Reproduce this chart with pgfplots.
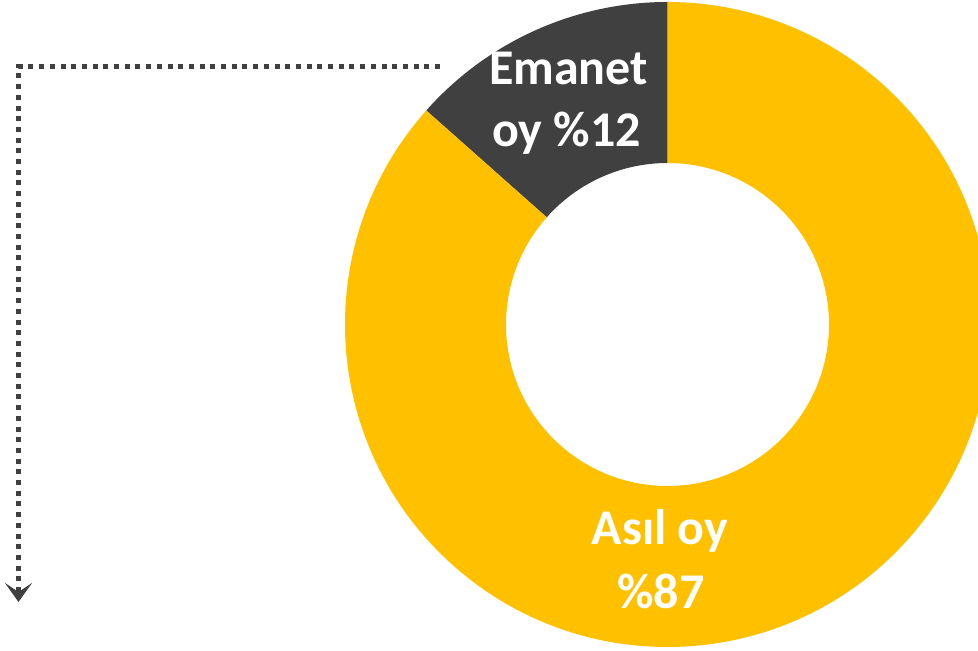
\documentclass[border=0pt]{standalone}
\usepackage{pgfplots}
\pgfplotsset{compat=1.18}
\usepackage{pgfplotstable}
\usepackage{fontspec}
\setmainfont{Carlito}
\usetikzlibrary{arrows.meta}
\definecolor{cyel}{HTML}{FFC000}
\definecolor{cgray}{HTML}{404040}
\pgfplotstableread{
part share
Emanet 13.45
Asil 86.55
}\votes
\begin{document}
\begin{tikzpicture}
\pgfplotstablegetelem{0}{share}\of\votes
\pgfmathsetmacro{\angA}{90+3.6*\pgfplotsretval}
\begin{axis}[
  x=1pt, y=1pt, scale only axis,
  xmin=0, xmax=978, ymin=0, ymax=651,
  hide axis, clip=true,
  at={(0,0)}, anchor=south west,
]
\addplot[draw=none] coordinates {(0,0) (978,651)};
\begin{scope}[shift={(axis cs:667.5,326.5)}]
\fill[cgray] (90:322.5pt) arc[start angle=90, end angle=\angA, radius=322.5pt]
  -- (\angA:161.5pt) arc[start angle=\angA, end angle=90, radius=161.5pt] -- cycle;
\fill[cyel] (\angA:322.5pt) arc[start angle=\angA, end angle=450, radius=322.5pt]
  -- (450:161.5pt) arc[start angle=450, end angle=\angA, radius=161.5pt] -- cycle;
\end{scope}
\draw[cgray, line width=5pt, dash pattern=on 5pt off 5.7pt]
  (axis cs:440,584) -- (axis cs:18.5,584) -- (axis cs:18.5,62);
\draw[cgray, line width=5pt, -{Stealth[length=19pt, width=27pt, inset=9pt]}]
  (axis cs:18.5,64) -- (axis cs:18.5,49);
\begin{scope}[every node/.style={text=white, font=\fontsize{50}{60}\selectfont\bfseries, inner sep=0pt, anchor=base}]
\node at (axis cs:568.5,566) {Emanet};
\node at (axis cs:566.5,504) {oy \%12};
\node at (axis cs:660,106) {Asıl oy};
\node at (axis cs:661,42) {\%87};
\end{scope}
\end{axis}
\pgfresetboundingbox
\useasboundingbox (0,0) rectangle (978pt,651pt);
\end{tikzpicture}
\end{document}
